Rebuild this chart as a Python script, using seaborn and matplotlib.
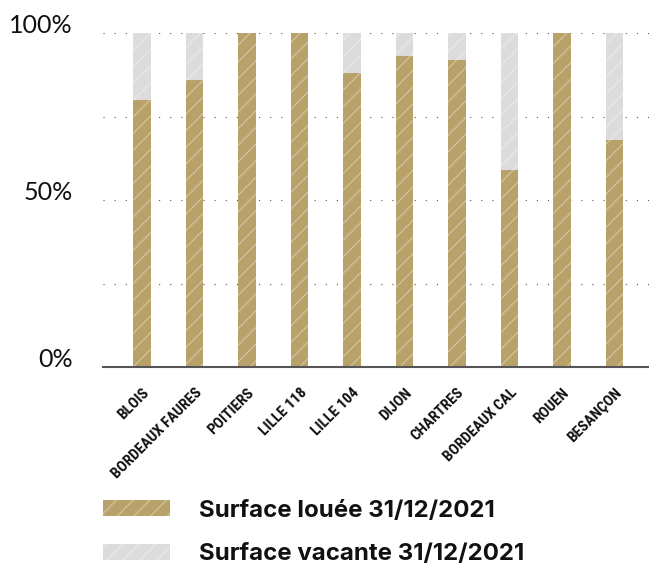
import matplotlib
matplotlib.use("Agg")
import matplotlib.pyplot as plt
from matplotlib.patches import Patch
from matplotlib.transforms import ScaledTranslation
import seaborn as sns
import numpy as np

# ---- data ----
sites = ["BLOIS", "BORDEAUX FAURES", "POITIERS", "LILLE 118", "LILLE 104",
         "DIJON", "CHARTRES", "BORDEAUX CAL", "ROUEN", "BESANÇON"]
louee = [80, 86, 100, 100, 88, 93, 92, 59, 100, 68]
vacante = [20, 14, 0, 0, 12, 7, 8, 41, 0, 32]
y_ticks = [0, 25, 50, 75, 100]
y_labels = ["0%", "", "50%", "", "100%"]
legend_labels = ["Surface louée 31/12/2021", "Surface vacante 31/12/2021"]

GOLD = "#b8a26a"
GRAY = "#dcdcdc"
HATCH_EC = (1, 1, 1, 0.42)

sns.set_style("white")
plt.rcParams["hatch.linewidth"] = 0.75

W, H = 649, 567
fig = plt.figure(figsize=(W / 100, H / 100), dpi=100)
ax = fig.add_axes([103 / W, (H - 367) / H, (W - 103) / W, (367 - 33) / H])

total = np.array(louee) + np.array(vacante)
sns.barplot(x=sites, y=total, color=GRAY, saturation=1, width=0.33,
            edgecolor=HATCH_EC, linewidth=0, hatch="//", ax=ax, zorder=2)
sns.barplot(x=sites, y=louee, color=GOLD, saturation=1, width=0.33,
            edgecolor=HATCH_EC, linewidth=0, hatch="//", ax=ax, zorder=3)

ax.set_xlim(-0.743, 9.657)
ax.set_ylim(0, 100)
ax.set_xlabel("")
ax.set_ylabel("")

ax.set_yticks(y_ticks)
ax.set_yticklabels(y_labels, fontsize=18, family=["Lato", "DejaVu Sans"], color="#111111")
for lbl in ax.get_yticklabels():
    lbl.set_va("baseline")
ax.tick_params(axis="y", length=0, pad=22)
ax.tick_params(axis="x", length=0, pad=17)

ax.set_xticks(range(len(sites)))
ax.set_xticklabels(sites, rotation=45, ha="right", va="center",
                   rotation_mode="anchor", fontsize=11, fontweight="bold",
                   family=["Roboto Condensed", "Liberation Sans Narrow",
                           "Open Sans Condensed", "DejaVu Sans"],
                   color="#111111")
offset = ScaledTranslation(5 / 100, 0, fig.dpi_scale_trans)
for lbl in ax.get_xticklabels():
    lbl.set_transform(lbl.get_transform() + offset)

ax.grid(axis="y", color="#555555", linestyle=(0, (1, 9)), linewidth=0.8, zorder=0)
ax.grid(axis="x", visible=False)
ax.set_axisbelow(True)
for s in ["top", "right", "left"]:
    ax.spines[s].set_visible(False)
ax.spines["bottom"].set_color("#555555")
ax.spines["bottom"].set_linewidth(1.5)
ax.spines["bottom"].set_zorder(5)

handles = [Patch(facecolor=GOLD, edgecolor=HATCH_EC, linewidth=0, hatch="//"),
           Patch(facecolor=GRAY, edgecolor=HATCH_EC, linewidth=0, hatch="//")]
fsz = 17.3
fs = fsz * 100 / 72
leg = fig.legend(handles, legend_labels, loc="upper left",
                 bbox_to_anchor=(103 / W, 1 - 499.5 / H),
                 frameon=False, borderpad=0, borderaxespad=0,
                 handlelength=67 / fs, handleheight=16 / fs,
                 handletextpad=29 / fs, labelspacing=(46 - fs) / fs,
                 prop={"family": ["Inter", "DejaVu Sans"], "weight": "bold", "size": fsz})
for t in leg.get_texts():
    t.set_color("#111111")

fig.savefig("out.png", dpi=100)
